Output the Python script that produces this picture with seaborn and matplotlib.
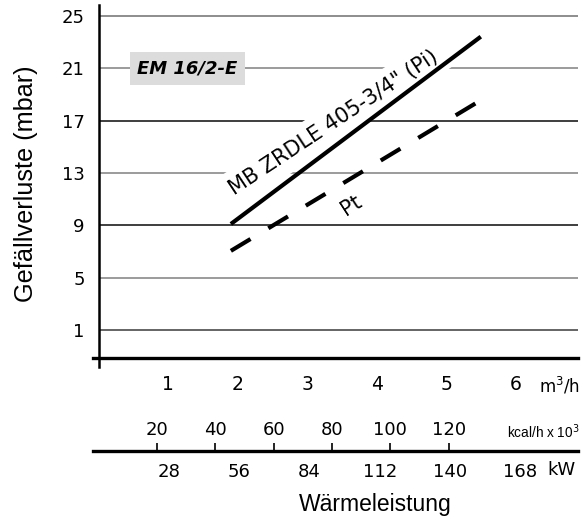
import numpy as np
import pandas as pd
import matplotlib
matplotlib.use("Agg")
import matplotlib.pyplot as plt
import seaborn as sns

# ---------------- data ----------------
flow_m3h = [1.9, 5.5]            # m3/h
loss_pi = [9.1, 23.4]            # MB ZRDLE 405-3/4" (Pi)
loss_pt = [7.05, 18.55]          # Pt
y_ticks = [1, 5, 9, 13, 17, 21, 25]
x_ticks = [1, 2, 3, 4, 5, 6]
kcal_ticks = [20, 40, 60, 80, 100, 120]
kw_ticks = [28, 56, 84, 112, 140, 168]
label_pi = 'MB ZRDLE 405-3/4" (Pi)'
label_pt = 'Pt'
title_box = 'EM 16/2-E'
y_label = 'Gefällverluste (mbar)'
x_label = 'Wärmeleistung'
unit_flow = 'm$^3$/h'
unit_kcal = 'kcal/h x 10$^3$'
unit_kw = 'kW'

# ---------------- style ----------------
sns.set_style('white')
plt.rcParams['font.family'] = ['DejaVu Sans']
plt.rcParams['text.color'] = 'black'
plt.rcParams['axes.labelcolor'] = 'black'

W, H = 585, 522
fig = plt.figure(figsize=(W / 100, H / 100), dpi=100)


def fx(px):
    return px / W


def fy(py):
    return 1 - py / H


ax = fig.add_axes([fx(93), fy(367), fx(578) - fx(93), fy(5) - fy(367)])
ax.set_facecolor('none')
ax.set_xlim(-0.086, 6.9)
ax.set_ylim(-1.817, 25.817)

# gridlines (some darker, some grey as in the original)
grid_colors = ['#4a4a4a', '#8a8a8a', '#1e1e1e', '#8a8a8a', '#1e1e1e', '#8a8a8a', '#7a7a7a']
ax.hlines(y_ticks, 0, 6.9, colors=grid_colors, linewidth=1.2, zorder=1)

df = pd.DataFrame({'flow': flow_m3h, 'pi': loss_pi, 'pt': loss_pt})
sns.lineplot(data=df, x='flow', y='pi', ax=ax, color='black', linewidth=3.0,
             solid_capstyle='butt', zorder=5)
sns.lineplot(data=df, x='flow', y='pt', ax=ax, color='black', linewidth=3.0,
             linestyle=(0, (5.5, 5)), dash_capstyle='butt', zorder=5)
ax.set_xlabel('')
ax.set_ylabel('')

ax.text(3.38, 16.8, label_pi, rotation=33.5, rotation_mode='anchor',
        ha='center', va='center', fontsize=15, color='black',
        bbox=dict(boxstyle='square,pad=0.4', fc='white', ec='none'), zorder=3)
ax.text(3.63, 10.55, label_pt, rotation=33, rotation_mode='anchor',
        ha='center', va='center', fontsize=15, color='black', zorder=3)

ax.text(1.275, 21, title_box, fontsize=13, fontweight='bold', fontstyle='italic',
        ha='center', va='center', color='black',
        bbox=dict(boxstyle='square,pad=0.42', fc='#dcdcdc', ec='none'), zorder=4)

# axes / spines
ax.set_xticks(x_ticks)
ax.set_yticks(y_ticks)
ax.tick_params(axis='y', direction='out', length=4.3, width=1.2, pad=6,
               labelsize=13, colors='black')
ax.tick_params(axis='x', direction='out', length=6, width=1.2, pad=6,
               labelsize=13.5, colors='black')
ax.spines['left'].set_position(('data', 0))
ax.spines['bottom'].set_position(('data', -1.16))
ax.spines['left'].set_linewidth(1.8)
ax.spines['bottom'].set_linewidth(2.4)
ax.spines['left'].set_color('black')
ax.spines['bottom'].set_color('black')
ax.spines['top'].set_visible(False)
ax.spines['right'].set_visible(False)

# second scale: kW (below) and kcal/h x 10^3 (above)
ax2 = fig.add_axes([fx(93), fy(451), fx(578) - fx(93), 1e-4])
ax2.set_facecolor('none')
ax2.set_xlim(-2.31, 191.1)
ax2.set_yticks([])
for s in ['left', 'right', 'top']:
    ax2.spines[s].set_visible(False)
ax2.spines['bottom'].set_linewidth(2.4)
ax2.spines['bottom'].set_color('black')
ax2.set_xticks(kw_ticks)
ax2.tick_params(axis='x', direction='out', length=6.5, width=1.2, pad=2,
                labelsize=13, colors='black')
sec = ax2.secondary_xaxis('top', functions=(lambda k: k * 0.86, lambda c: c / 0.86))
sec.set_xticks(kcal_ticks)
sec.tick_params(direction='out', length=5.8, width=1.2, pad=3, labelsize=13,
                colors='black')
sec.spines['top'].set_visible(False)

# unit labels and axis titles
fig.text(fx(543), fy(432), unit_kcal, ha='center', va='center', fontsize=9.8,
         family=['Liberation Sans', 'DejaVu Sans'])
fig.text(fx(560), fy(386), unit_flow, ha='center', va='center', fontsize=12)
fig.text(fx(561), fy(470), unit_kw, ha='center', va='center', fontsize=13)
fig.text(fx(375), fy(505), x_label, ha='center', va='center', fontsize=16.5,
         family=['Liberation Sans', 'DejaVu Sans'])
fig.text(fx(26), fy(184), y_label, ha='center', va='center', fontsize=18.2,
         rotation=90, family=['Liberation Sans', 'DejaVu Sans'])

fig.savefig('out.png', dpi=100)
